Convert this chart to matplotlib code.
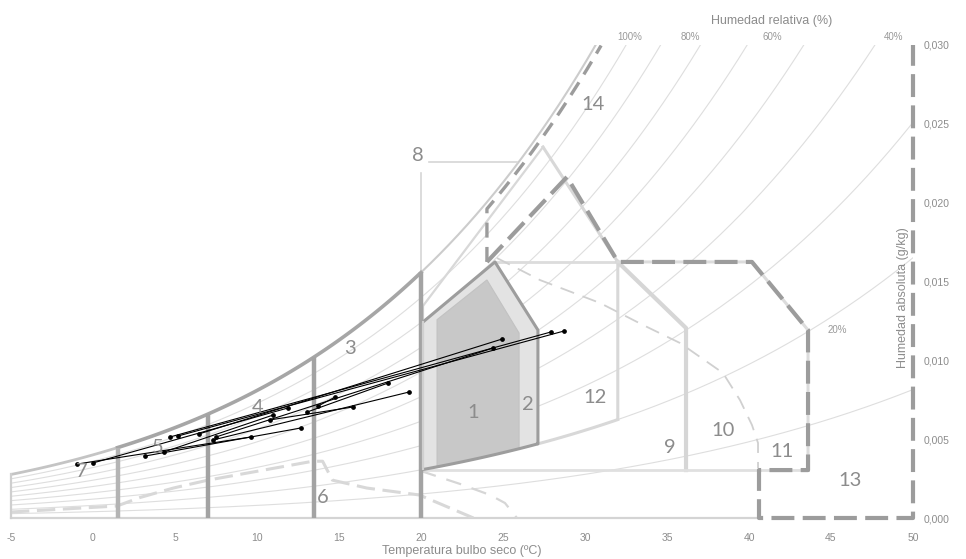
import numpy as np
import matplotlib
matplotlib.use("Agg")
import matplotlib.pyplot as plt
from matplotlib.patches import Polygon

plt.rcParams["font.family"] = ["Liberation Sans", "DejaVu Sans"]

# ---------------------------------------------------------------- data
t_ticks = [-5, 0, 5, 10, 15, 20, 25, 30, 35, 40, 45, 50]
w_ticks = [0.000, 0.005, 0.010, 0.015, 0.020, 0.025, 0.030]
w_tick_labels = ["0,000", "0,005", "0,010", "0,015", "0,020", "0,025", "0,030"]

rh_levels = [0.1, 0.2, 0.3, 0.4, 0.5, 0.6, 0.7, 0.8, 0.9]
rh_labels = ["100%", "80%", "60%", "40%", "20%"]
rh_label_t = [32.7, 36.4, 41.4, 48.8, 45.4]
rh_label_w = [0.0305, 0.0305, 0.0305, 0.0305, 0.0119]

# monthly climate segments (coldest point -> warmest point)
t_min = [4.70, 5.18, 6.46, 7.50, -0.98, 0.00, 3.17, 4.33, 7.32, 10.79, 13.05, 13.72]
w_min = [0.00514, 0.00520, 0.00533, 0.00514, 0.00342, 0.00349, 0.00393, 0.00419,
         0.00495, 0.00622, 0.00672, 0.00710]
t_max = [27.93, 28.72, 24.94, 24.39, 9.63, 11.89, 12.68, 10.98, 19.27, 15.85, 17.99, 14.76]
w_max = [0.01180, 0.01186, 0.01135, 0.01078, 0.00514, 0.00698, 0.00571, 0.00653,
         0.00799, 0.00704, 0.00856, 0.00767]

# heating bands (zones 7, 5, 4, 3)
heat_bounds = [-5.0, 1.5, 7.0, 13.5, 20.0]

# comfort zones
zone2_t = [20.12, 24.51, 27.13, 27.13]
zone2_w = [0.01243, 0.01624, 0.01192]
zone1_t = [20.98, 24.02, 25.98, 25.98]
zone1_w = [0.01258, 0.01510, 0.01173]
rh_bottom = 0.20

# zone 6 boundary
zone6_t = [-5.0, 1.46, 2.87, 4.9, 7.0, 13.4, 14.0, 14.6, 16.7, 19.9, 23.2]
zone6_w = [0.00038, 0.00076, 0.0013, 0.0019, 0.0024, 0.0036, 0.0036, 0.0024,
           0.0019, 0.00146, 0.0]

# evaporative-cooling boundary (zone 10)
zone10_t = [24.63, 27.26, 30.91, 33.54, 35.79, 38.41, 39.45, 40.18, 40.55, 40.55]
zone10_w = [0.01649, 0.01509, 0.01364, 0.01224, 0.01110, 0.00920, 0.00748,
            0.00590, 0.00476, 0.00317]

lower_t = [20.0, 22.38, 24.21, 25.12, 25.85]
lower_w = [0.00298, 0.00216, 0.00146, 0.00095, 0.0]

# zone 12 outline
zone12_t = [20.12, 27.44, 32.0, 32.0]
zone12_w = [0.01345, 0.02353, 0.01624, 0.00634]

# zones 9 / 10 / 11
zone9_t = [32.0, 36.16, 36.16]
zone9_w = [0.01624, 0.01205, 0.00304]
zone11_t = [32.0, 40.18, 43.60, 43.60]
zone11_w = [0.01624, 0.01624, 0.01192, 0.00304]
w_floor = 0.00304

# zone 13 (air conditioning) boundary
zone13_t = [24.02, 28.90, 32.01, 40.18, 43.60, 43.60, 40.61, 40.61, 50.0, 50.0]
zone13_w = [0.01624, 0.02163, 0.01624, 0.01624, 0.01192, 0.00304, 0.00304, 0.0, 0.0, 0.030]
zone14_t0 = 24.02

zone_names = ["1", "2", "3", "4", "5", "6", "7", "8", "9", "10", "11", "12", "13", "14"]
zone_lab_t = [23.17, 26.52, 15.67, 10.06, 3.96, 14.02, -0.67, 19.82, 35.18, 38.41,
              42.01, 30.61, 46.16, 30.49]
zone_lab_w = [0.00666, 0.00717, 0.01078, 0.00698, 0.00450, 0.00127, 0.00292, 0.02302,
              0.00450, 0.00558, 0.00419, 0.00767, 0.00241, 0.02620]

# ---------------------------------------------------------- psychrometrics
P_ATM = 95500.0


def p_sat(t):
    t = np.asarray(t, float)
    return 611.2 * np.exp(17.62 * t / (243.12 + t))


def w_rh(t, rh):
    pv = rh * p_sat(t)
    return 0.622 * pv / (P_ATM - pv)


def rh_curve(rh, t0, t1, n=80):
    t = np.linspace(t0, t1, n)
    return t, w_rh(t, rh)


# ---------------------------------------------------------------- figure
fig = plt.figure(figsize=(9.66, 5.59), dpi=100)
ax = fig.add_axes([11 / 966, 41 / 559, 902 / 966, 473 / 559])
ax.set_xlim(-5, 50)
ax.set_ylim(0, 0.030)
for s in ax.spines.values():
    s.set_visible(False)

grey_lab = "#8c8c8c"

# relative humidity curves
tt = np.linspace(-5, 50, 600)
for rh in rh_levels:
    ax.plot(tt, w_rh(tt, rh), color="#dedede", lw=0.8, zorder=1)
t_hot = np.linspace(20, 34, 200)
ax.plot(t_hot, w_rh(t_hot, 1.0), color="#cccccc", lw=1.5, zorder=1.2)

# base line
ax.plot([-5, 40.61], [0, 0], color="#d4d4d4", lw=1.6, zorder=1.5, clip_on=False)

# heating bands
ta, wa = rh_curve(1.0, -5, 1.5)
ax.plot(ta, wa, color="#c4c4c4", lw=2.0, zorder=3)
tb, wb = rh_curve(1.0, 1.5, 20.0)
ax.plot(tb, wb, color="#a6a6a6", lw=2.6, zorder=3)
ax.plot([-5, -5], [0, w_rh(-5, 1.0)], color="#cfcfcf", lw=1.6, zorder=3, clip_on=False)
for i, tv in enumerate(heat_bounds[1:]):
    col = "#b4b4b4" if i == 0 else "#a3a3a3"
    ax.plot([tv, tv], [0, w_rh(tv, 1.0)], color=col, lw=3.2, zorder=3,
            solid_capstyle="butt")

# zone 6
ax.plot(zone6_t, zone6_w, color="#d8d8d8", lw=2.2, ls=(0, (6, 2.5)), zorder=2)

# zone 8 bracket
ax.plot([20.0, 20.0], [0.0219, 0.0157], color="#d6d6d6", lw=1.2, zorder=2)
ax.plot([20.5, 25.85], [0.0226, 0.0226], color="#d6d6d6", lw=1.2, zorder=2)

# zone 12
bt, bw = rh_curve(rh_bottom, 27.13, 32.0)
ax.plot(zone12_t[:2], zone12_w[:2], color="#d8d8d8", lw=1.6, zorder=2)
ax.plot(zone12_t[1:], zone12_w[1:], color="#d8d8d8", lw=2.2, zorder=2)
ax.plot(bt, bw, color="#d8d8d8", lw=2.2, zorder=2)
ax.plot([zone2_t[1], zone12_t[2]], [zone2_w[1], zone12_w[2]], color="#dcdcdc", lw=2.0, zorder=2)
ax.plot([20.12, 20.12], [zone12_w[0], w_floor], color="#d2d2d2", lw=1.6, zorder=2)

# zones 9, 10, 11
ax.plot(zone9_t, zone9_w, color="#d6d6d6", lw=3.0, zorder=2)
ax.plot(zone11_t, zone11_w, color="#dcdcdc", lw=2.2, zorder=2)
ax.plot([20.12, 43.6], [w_floor, w_floor], color="#e0e0e0", lw=2.0, zorder=2)
ax.plot(zone10_t, zone10_w, color="#d0d0d0", lw=1.3, ls=(0, (8, 5)), zorder=2)
ax.plot(lower_t, lower_w, color="#d6d6d6", lw=1.6, ls=(0, (7, 5)), zorder=2)

# comfort zones 2 and 1
b2t, b2w = rh_curve(rh_bottom, zone2_t[0], zone2_t[-1])
poly2 = np.column_stack([
    np.concatenate([[zone2_t[0], zone2_t[1], zone2_t[2]], b2t[::-1]]),
    np.concatenate([zone2_w, b2w[::-1]]),
])
ax.add_patch(Polygon(poly2, closed=True, facecolor="#e3e3e3", edgecolor="none", zorder=3))
ax.plot(poly2[:, 0], poly2[:, 1], color="#9d9d9d", lw=2.2, zorder=4)
ax.plot([zone2_t[0], zone2_t[0]], [b2w[0], zone2_w[0]], color="#d0d0d0", lw=1.6, zorder=4)

b1t, b1w = rh_curve(rh_bottom, zone1_t[0], zone1_t[-1])
poly1 = np.column_stack([
    np.concatenate([[zone1_t[0], zone1_t[1], zone1_t[2]], b1t[::-1]]),
    np.concatenate([zone1_w, b1w[::-1]]),
])
ax.add_patch(Polygon(poly1, closed=True, facecolor="#c8c8c8", edgecolor="#c2c2c2",
                     lw=0.8, zorder=3.5))

# zone 13 and 14 (dashed)
ax.plot(zone13_t, zone13_w, color="#9c9c9c", lw=3.0, ls=(0, (5.5, 2)), zorder=5,
        clip_on=False)
shift = 0.35
w_top = 0.030
ts = np.linspace(zone14_t0 - shift, 31.0, 200)
ws = w_rh(ts, 1.0)
keep = ws <= w_top
z14_t = np.concatenate([[zone14_t0], ts[keep] + shift])
z14_w = np.concatenate([[zone13_w[0]], ws[keep]])
ax.plot(z14_t, z14_w, color="#9c9c9c", lw=2.4, ls=(0, (4.5, 2.8)), zorder=5)

# climate data
for a, b, c, d in zip(t_min, w_min, t_max, w_max):
    ax.plot([a, c], [b, d], color="black", lw=0.8, marker="o", ms=2.4, zorder=6)

# zone numbers
for name, tx, wy in zip(zone_names, zone_lab_t, zone_lab_w):
    ax.text(tx, wy, name, family=["Lato", "DejaVu Sans"], fontsize=14.5, color=grey_lab,
            ha="center", va="center", zorder=7)

# relative humidity labels
for lab, tx, wy in zip(rh_labels, rh_label_t, rh_label_w):
    ax.text(tx, wy, lab, fontsize=7, color="#999999", ha="center", va="center",
            clip_on=False, zorder=7)

# axes
ax.set_xticks(t_ticks)
ax.set_xticklabels([str(v) for v in t_ticks])
ax.tick_params(axis="x", length=0, pad=11, labelsize=7.5, labelcolor=grey_lab)
ax.yaxis.tick_right()
ax.set_yticks(w_ticks)
ax.set_yticklabels(w_tick_labels)
ax.tick_params(axis="y", length=0, pad=8, labelsize=7.5, labelcolor=grey_lab)

fig.text(462 / 966, 1 - 551 / 559, "Temperatura bulbo seco (ºC)", fontsize=9,
         color=grey_lab, ha="center", va="center")
fig.text(772 / 966, 1 - 21 / 559, "Humedad relativa (%)", fontsize=9,
         color=grey_lab, ha="center", va="center")
fig.text(903 / 966, 1 - 298 / 559, "Humedad absoluta (g/kg)", fontsize=9,
         color=grey_lab, ha="center", va="center", rotation=90)

fig.savefig("out.png", dpi=100, facecolor="white")
